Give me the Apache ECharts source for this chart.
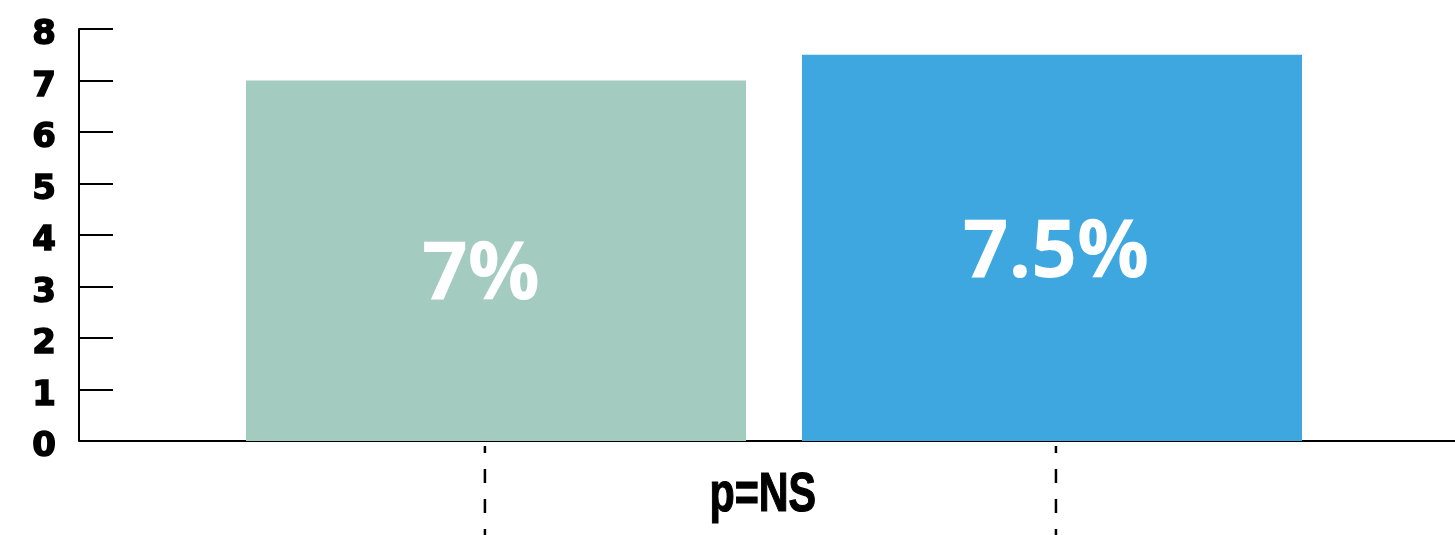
<!DOCTYPE html>
<html>
<head>
<meta charset="utf-8">
<script src="https://cdn.jsdelivr.net/npm/echarts@6/dist/echarts.min.js"></script>
<style>
html,body{margin:0;padding:0;background:#fff;}
#c{width:1455px;height:535px;}
</style>
</head>
<body>
<div id="c"></div>
<script>
// ---- data ----
var categories = [''];
var groupNames = ['Group 1', 'Group 2'];
var values = [7, 7.5];
var valueLabels = ['7%', '7.5%'];
var yTicks = [0, 1, 2, 3, 4, 5, 6, 7, 8];
var pValueText = 'p=NS';
var bracketX = [0.295, 0.710];   // bracket leg positions (fraction of plot width)

var colors = ['#a3cbbf', '#3fa7e0'];
var labelOffsets = [[-15, 15], [4, 6]];

var chart = echarts.init(document.getElementById('c'));

var series = groupNames.map(function (name, i) {
  return {
    name: name,
    type: 'bar',
    xAxisIndex: 0,
    yAxisIndex: 0,
    barWidth: 500,
    barGap: '11.2%',
    z: 1,
    itemStyle: { color: colors[i] },
    label: {
      show: true,
      position: 'inside',
      offset: labelOffsets[i],
      color: '#fff',
      fontFamily: 'Open Sans',
      fontWeight: 'bold',
      fontSize: 80,
      formatter: function () { return valueLabels[i]; }
    },
    data: [values[i]]
  };
});

bracketX.forEach(function (x) {
  series.push({
    type: 'line',
    xAxisIndex: 1,
    yAxisIndex: 1,
    symbol: 'none',
    silent: true,
    lineStyle: { color: '#000', width: 2.5, type: [14, 16], dashOffset: 7 },
    data: [[x, 1], [x, 0]]
  });
});

chart.setOption({
  animation: false,
  backgroundColor: '#fff',
  graphic: [{
    type: 'text',
    left: 709,
    top: 468,
    scaleX: 0.75,
    style: {
      text: pValueText,
      font: "bold 55px 'Liberation Sans', Arial, sans-serif",
      fill: '#000',
      stroke: '#000',
      lineWidth: 1.2
    }
  }],
  grid: [
    { left: 93, right: 0, top: 29, bottom: 94, containLabel: false },
    { left: 79, right: 0, top: 446, bottom: 0, containLabel: false }
  ],
  xAxis: [
    {
      type: 'category',
      gridIndex: 0,
      data: categories,
      axisLine: { show: true, lineStyle: { color: '#000', width: 2 } },
      axisTick: { show: false },
      axisLabel: { show: false },
      splitLine: { show: false },
      z: 0
    },
    {
      type: 'value',
      gridIndex: 1,
      min: 0, max: 1,
      show: false
    }
  ],
  yAxis: [
    {
      type: 'value',
      gridIndex: 0,
      offset: 14,
      min: yTicks[0],
      max: yTicks[yTicks.length - 1],
      interval: 1,
      axisLine: { show: true, lineStyle: { color: '#000', width: 2 } },
      axisTick: { show: true, inside: true, length: 34, lineStyle: { color: '#000', width: 2 } },
      splitLine: { show: false },
      axisLabel: {
        margin: 23,
        color: '#000',
        fontFamily: 'DejaVu Sans',
        fontWeight: 'bold',
        fontSize: 34,
        textBorderColor: '#000',
        textBorderWidth: 1.5,
        verticalAlign: 'top',
        lineHeight: 13
      }
    },
    {
      type: 'value',
      gridIndex: 1,
      min: 0, max: 1,
      show: false
    }
  ],
  series: series
});
</script>
</body>
</html>
